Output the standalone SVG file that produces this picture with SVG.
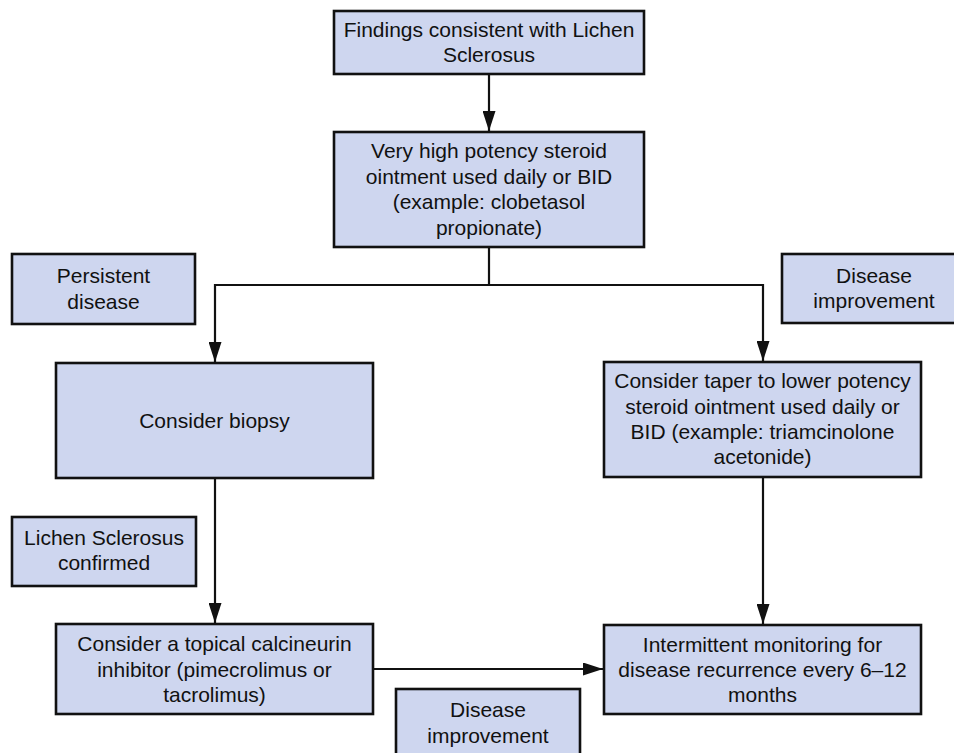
<svg xmlns="http://www.w3.org/2000/svg" width="954" height="753" viewBox="0 0 954 753">
  <style>
    .box { fill: #ced6ef; stroke: #111; stroke-width: 2.6; }
    .t { font-family: "Liberation Sans", Arial, sans-serif; font-size: 21px; fill: #111; text-anchor: middle; }
    .edge { fill: none; stroke: #111; stroke-width: 2.2; }
  </style>
  <defs>
    <marker id="arrow" viewBox="0 0 20 13" refX="20" refY="6.5" markerWidth="20" markerHeight="13" markerUnits="userSpaceOnUse" orient="auto">
      <path d="M0,0 L20,6.5 L0,13 Z" fill="#111"/>
    </marker>
  </defs>
  <rect width="954" height="753" fill="#fff"/>

  <g id="connectors">
    <path class="edge" d="M489,74 V131" marker-end="url(#arrow)"/>
    <path class="edge" d="M489,247 V285 H215 V362" marker-end="url(#arrow)"/>
    <path class="edge" d="M489,285 H763 V361" marker-end="url(#arrow)"/>
    <path class="edge" d="M215,478 V623" marker-end="url(#arrow)"/>
    <path class="edge" d="M763,477 V624" marker-end="url(#arrow)"/>
    <path class="edge" d="M373,669 H603" marker-end="url(#arrow)"/>
  </g>

  <g id="findings">
    <rect class="box" x="334" y="11" width="310" height="63"/>
    <text class="t" x="489" y="37">Findings consistent with Lichen</text>
    <text class="t" x="489" y="62">Sclerosus</text>
  </g>

  <g id="high-potency">
    <rect class="box" x="334" y="132" width="310" height="115"/>
    <text class="t" x="489" y="158">Very high potency steroid</text>
    <text class="t" x="489" y="184">ointment used daily or BID</text>
    <text class="t" x="489" y="209">(example: clobetasol</text>
    <text class="t" x="489" y="235">propionate)</text>
  </g>

  <g id="persistent">
    <rect class="box" x="12" y="254" width="183" height="70"/>
    <text class="t" x="103.5" y="283">Persistent</text>
    <text class="t" x="103.5" y="309">disease</text>
  </g>

  <g id="improvement-right">
    <rect class="box" x="782" y="254" width="184" height="69"/>
    <text class="t" x="874" y="283">Disease</text>
    <text class="t" x="874" y="308">improvement</text>
  </g>

  <g id="biopsy">
    <rect class="box" x="56" y="363" width="317" height="115"/>
    <text class="t" x="214.5" y="428">Consider biopsy</text>
  </g>

  <g id="taper">
    <rect class="box" x="604" y="362" width="317" height="115"/>
    <text class="t" x="762.5" y="388">Consider taper to lower potency</text>
    <text class="t" x="762.5" y="414">steroid ointment used daily or</text>
    <text class="t" x="762.5" y="439">BID (example: triamcinolone</text>
    <text class="t" x="762.5" y="464">acetonide)</text>
  </g>

  <g id="confirmed">
    <rect class="box" x="12" y="517" width="184" height="69"/>
    <text class="t" x="104" y="545">Lichen Sclerosus</text>
    <text class="t" x="104" y="570">confirmed</text>
  </g>

  <g id="calcineurin">
    <rect class="box" x="56" y="624" width="317" height="90"/>
    <text class="t" x="214.5" y="651">Consider a topical calcineurin</text>
    <text class="t" x="214.5" y="677">inhibitor (pimecrolimus or</text>
    <text class="t" x="214.5" y="702">tacrolimus)</text>
  </g>

  <g id="monitoring">
    <rect class="box" x="604" y="625" width="317" height="89"/>
    <text class="t" x="762.5" y="652">Intermittent monitoring for</text>
    <text class="t" x="762.5" y="677">disease recurrence every 6–12</text>
    <text class="t" x="762.5" y="702">months</text>
  </g>

  <g id="improvement-bottom">
    <rect class="box" x="396" y="689" width="184" height="72"/>
    <text class="t" x="488" y="717">Disease</text>
    <text class="t" x="488" y="743">improvement</text>
  </g>
</svg>
